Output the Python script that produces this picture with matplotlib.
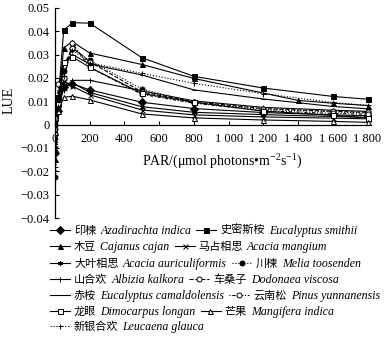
import matplotlib
matplotlib.use('Agg')
import matplotlib.pyplot as plt
from matplotlib.lines import Line2D

plt.rcParams['font.family'] = ['Liberation Serif', 'Noto Sans CJK SC', 'DejaVu Sans']
plt.rcParams['mathtext.fontset'] = 'custom'
plt.rcParams['mathtext.rm'] = 'Liberation Serif'
plt.rcParams['mathtext.it'] = 'Liberation Serif:italic'
plt.rcParams['axes.unicode_minus'] = True

# PAR levels (umol photons m-2 s-1)
par = [0, 20, 50, 100, 200, 500, 800, 1200, 1600, 1800]
par_cajan = [0, 20, 50, 100, 200, 500, 800, 1400, 1600, 1800]

# LUE readings per species
azadirachta = [-0.012, 0.006, 0.016, 0.0175, 0.0149, 0.0096, 0.0069, 0.0052, 0.0042, 0.0038]
smithii = [0.0045, 0.012, 0.0405, 0.0437, 0.0435, 0.0287, 0.0207, 0.0157, 0.0121, 0.0109]
cajanus = [-0.0145, 0.010, 0.033, 0.0355, 0.0307, 0.0258, 0.0198, 0.0104, 0.0092, 0.0082]
mangium = [-0.010, 0.008, 0.0189, 0.0165, 0.0128, 0.0063, 0.0042, 0.0033, 0.0028, 0.0025]
auriculiformis = [-0.008, 0.009, 0.017, 0.018, 0.0138, 0.0077, 0.0053, 0.0043, 0.0035, 0.0031]
melia = [-0.0225, 0.011, 0.023, 0.0325, 0.0275, 0.0153, 0.0095, 0.0065, 0.0055, 0.0050]
albizia = [-0.018, 0.010, 0.015, 0.019, 0.019, 0.0145, 0.0102, 0.0074, 0.0062, 0.0057]
dodonaea = [-0.002, 0.0175, 0.025, 0.033, 0.027, 0.014, 0.0098, 0.0069, 0.0057, 0.0053]
camaldulensis = [-0.006, 0.012, 0.026, 0.030, 0.026, 0.0213, 0.0149, 0.0110, 0.0078, 0.0068]
pinus = [-0.004, 0.009, 0.020, 0.035, 0.0245, 0.0130, 0.0092, 0.0060, 0.0048, 0.0045]
longan = [0.003, 0.009, 0.0267, 0.029, 0.0246, 0.0134, 0.0096, 0.0058, 0.0040, 0.0029]
mangifera = [-0.003, 0.006, 0.0117, 0.0122, 0.0106, 0.0046, 0.0029, 0.0020, 0.0014, 0.0010]
leucaena = [-0.030, 0.008, 0.021, 0.032, 0.0265, 0.0220, 0.0177, 0.0133, 0.0095, 0.0083]

xticks = [0, 200, 400, 600, 800, 1000, 1200, 1400, 1600, 1800]
xticklabels = ['0', '200', '400', '600', '800', '1 000', '1 200', '1 400', '1 600', '1 800']
yticks = [-0.04, -0.03, -0.02, -0.01, 0, 0.01, 0.02, 0.03, 0.04, 0.05]
yticklabels = ['\u22120.04', '\u22120.03', '\u22120.02', '\u22120.01', '0',
               '0.01', '0.02', '0.03', '0.04', '0.05']

W, H = 388, 337
fig = plt.figure(figsize=(W / 100, H / 100), dpi=100)
ax = fig.add_axes([0.1418, 0.3531, 0.8144, 0.6232])

kw = dict(color='black', linewidth=0.8, markersize=3.6, markeredgecolor='black',
          markeredgewidth=0.7)

# x, y, marker, face, linestyle, chinese name, latin name
series = [
    (par, azadirachta, 'D', 'black', '-', '印楝', 'Azadirachta indica'),
    (par, smithii, 's', 'black', '-', '史密斯桉', 'Eucalyptus smithii'),
    (par_cajan, cajanus, '^', 'black', '-', '木豆', 'Cajanus cajan'),
    (par, mangium, 'x', 'black', '-', '马占相思', 'Acacia mangium'),
    (par, auriculiformis, (6, 2, 0), 'black', '-', '大叶相思', 'Acacia auriculiformis'),
    (par, melia, 'o', 'black', ':', '川楝', 'Melia toosenden'),
    (par, albizia, '+', 'black', '-', '山合欢', 'Albizia kalkora'),
    (par, dodonaea, 'o', 'white', '--', '车桑子', 'Dodonaea viscosa'),
    (par, camaldulensis, '_', 'black', '-', '赤桉', 'Eucalyptus camaldolensis'),
    (par, pinus, 'o', 'white', (0, (1, 1.5, 3, 1.5)), '云南松', 'Pinus yunnanensis'),
    (par, longan, 's', 'white', '-', '龙眼', 'Dimocarpus longan'),
    (par, mangifera, '^', 'white', '-', '芒果', 'Mangifera indica'),
    (par, leucaena, '+', 'black', ':', '新银合欢', 'Leucaena glauca'),
]

for x, y, m, fc, ls, cn, la in series:
    ax.plot(x, y, marker=m, markerfacecolor=fc, linestyle=ls, **kw)

ax.set_xlim(0, 1820)
ax.set_ylim(-0.04, 0.05)
ax.set_xticks(xticks)
ax.set_xticklabels(xticklabels)
ax.set_yticks(yticks)
ax.set_yticklabels(yticklabels)
ax.spines['bottom'].set_position(('data', 0))
ax.spines['top'].set_visible(False)
ax.spines['right'].set_visible(False)
for s in ['left', 'bottom']:
    ax.spines[s].set_linewidth(0.9)
ax.tick_params(direction='in', length=3, width=0.8, labelsize=9, pad=4)
ax.tick_params(axis='x', pad=6)

ax.set_ylabel('LUE', fontsize=10)
ax.yaxis.set_label_coords(-0.125, 0.56)
ax.set_xlabel('PAR/(μmol photons•m$^{-2}$s$^{-1}$)', fontsize=10)
ax.xaxis.set_label_coords(0.53, 0.31)

# legend: entries flow along each row like in the print
renderer = fig.canvas.get_renderer()
rows = [(0, 1), (2, 3), (4, 5), (6, 7), (8, 9), (10, 11), (12,)]
row_y = [230, 246, 263, 279, 295, 311, 326]
for r, yy in zip(rows, row_y):
    x0 = 50
    yf = 1 - yy / H
    ybase = 1 - (yy + 4) / H
    for i in r:
        x, y, m, fc, ls, cn, la = series[i]
        seg = Line2D([x0 / W, (x0 + 10) / W, (x0 + 20) / W], [yf] * 3,
                     transform=fig.transFigure, marker=m, markerfacecolor=fc,
                     linestyle=ls, markevery=[1], **kw)
        fig.add_artist(seg)
        t1 = fig.text((x0 + 24) / W, ybase, cn, fontsize=8,
                      family='Noto Sans CJK SC', va='baseline')
        bb = t1.get_window_extent(renderer)
        t2 = fig.text((bb.x1 + 4) / W, ybase, la, fontsize=8.6, style='italic',
                      family='Liberation Serif', va='baseline')
        bb2 = t2.get_window_extent(renderer)
        x0 = bb2.x1 + 5

fig.savefig('out.png', dpi=100)
